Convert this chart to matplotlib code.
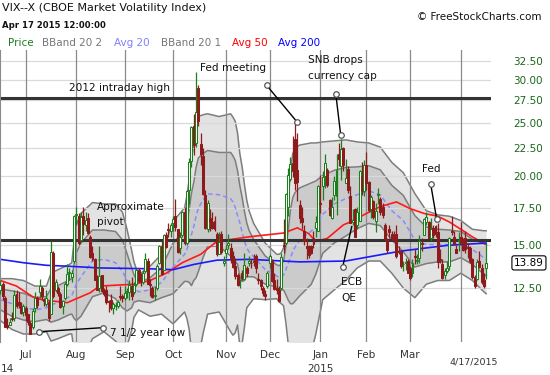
import numpy as np
import matplotlib.pyplot as plt
from matplotlib.ticker import NullLocator

# trading days shown per month: 16 Jun 2014 .. 17 Apr 2015
month_names = ['Jun', 'Jul', 'Aug', 'Sep', 'Oct', 'Nov', 'Dec', 'Jan', 'Feb', 'Mar', 'Apr']
month_days = [11, 22, 21, 21, 23, 19, 22, 20, 19, 22, 12]

# daily candles, one row per month
opens = [
    12.4, 12.7, 12.0, 10.7, 10.7, 11.0, 11.0, 12.2, 11.8, 11.6, 11.3,
    11.5, 11.2, 10.8, 10.6, 11.5, 12.0, 12.3, 12.5, 11.9, 11.7, 11.8, 11.2, 14.5, 12.4, 12.5, 12.2, 11.6, 12.0, 12.7, 13.3, 13.1, 14.0,
    17.0, 16.9, 15.3, 16.9, 16.3, 16.8, 15.5, 14.5, 14.1, 13.1, 12.5, 13.2, 12.4, 12.4, 11.8, 11.9, 11.5, 11.6, 11.6, 12.1, 12.1,
    12.0, 12.3, 12.3, 12.6, 12.3, 12.7, 13.5, 13.0, 12.8, 13.4, 14.0, 12.7, 12.5, 12.1, 12.5, 13.9, 14.9, 13.5, 15.6, 16.0, 15.9,
    16.4, 16.9, 16.0, 14.8, 15.6, 17.2, 15.1, 18.9, 21.3, 24.7, 23.0, 29.0, 22.9, 21.8, 18.5, 16.0, 16.8, 16.5, 16.6, 15.7, 14.4, 15.7, 13.9,
    14.5, 15.0, 14.8, 14.3, 13.7, 13.2, 12.9, 13.3, 13.0, 13.6, 13.9, 13.9, 14.0, 14.3, 13.0, 12.9, 12.5, 12.2, 12.6,
    13.9, 14.0, 12.9, 12.5, 12.4, 12.5, 15.0, 15.1, 17.6, 19.8, 21.1, 23.4, 20.5, 17.7, 16.8, 15.9, 14.9, 14.9, 14.9, 15.4, 16.1, 15.9,
    17.8, 19.2, 20.0, 20.5, 18.1, 16.8, 18.5, 18.4, 22.0, 20.9, 22.5, 19.4, 20.6, 18.4, 16.5, 17.4, 16.3, 16.6, 20.0, 18.8,
    21.0, 19.5, 17.4, 18.0, 16.6, 18.5, 18.2, 17.6, 16.3, 15.3, 16.0, 15.7, 15.6, 15.7, 14.6, 14.6, 13.8, 13.9, 14.0,
    13.6, 13.3, 14.3, 14.0, 14.2, 15.1, 15.6, 16.5, 16.5, 15.4, 16.1, 16.2, 15.8, 14.1, 13.8, 13.2, 13.4, 13.7, 15.9, 15.5, 14.7, 15.2,
    15.5, 15.0, 15.4, 14.8, 14.8, 14.1, 13.1, 13.0, 14.0, 13.6, 12.9, 13.6,
]
highs = [
    12.9, 12.8, 12.1, 11.0, 11.0, 11.3, 12.4, 12.4, 12.3, 11.8, 11.7,
    11.6, 11.2, 10.9, 11.5, 12.3, 12.1, 13.0, 12.6, 12.0, 12.4, 11.9, 15.2, 14.6, 13.0, 12.6, 12.3, 11.9, 12.8, 13.8, 13.6, 13.5, 17.0,
    17.6, 17.1, 17.2, 17.6, 17.2, 17.1, 15.6, 14.9, 14.2, 13.2, 14.9, 13.2, 12.5, 12.6, 11.9, 12.2, 11.8, 11.8, 11.9, 12.6, 12.2,
    12.6, 12.5, 12.9, 13.1, 12.8, 13.6, 13.6, 13.3, 13.5, 14.5, 14.2, 13.0, 12.6, 12.6, 13.8, 15.0, 15.2, 15.7, 15.8, 16.4, 16.4,
    16.9, 18.2, 16.0, 15.8, 17.3, 17.6, 18.9, 21.6, 24.7, 26.0, 31.06, 29.4, 24.0, 22.5, 18.9, 18.1, 17.4, 17.2, 16.9, 15.8, 15.8, 15.9, 14.3,
    15.0, 15.7, 15.1, 14.6, 14.2, 13.3, 13.0, 13.5, 14.5, 13.7, 14.3, 14.1, 14.4, 14.4, 13.3, 13.0, 12.6, 12.4, 13.4,
    14.4, 14.1, 13.3, 13.0, 12.6, 14.5, 16.7, 18.6, 20.7, 21.7, 23.7, 25.2, 24.0, 18.1, 17.6, 16.3, 15.4, 15.0, 15.0, 15.9, 16.9, 19.3,
    20.1, 20.4, 22.0, 20.7, 18.2, 18.3, 20.0, 22.0, 23.0, 23.4, 22.6, 21.5, 20.9, 19.2, 17.4, 17.5, 17.6, 20.5, 21.2, 21.4,
    22.1, 19.6, 18.5, 18.1, 17.9, 19.0, 18.3, 17.9, 16.4, 15.4, 16.3, 15.9, 15.9, 16.3, 14.9, 14.6, 14.0, 14.2, 14.1,
    13.7, 14.1, 14.7, 14.4, 15.6, 15.4, 16.8, 17.2, 16.6, 16.8, 16.3, 16.3, 16.4, 14.7, 14.1, 13.6, 14.0, 15.5, 16.9, 15.9, 15.0, 15.8,
    16.5, 15.4, 15.9, 15.1, 14.9, 14.2, 13.2, 14.1, 14.6, 13.8, 13.3, 15.1,
]
lows = [
    12.2, 11.9, 10.6, 10.5, 10.7, 10.9, 10.9, 11.5, 11.5, 11.2, 11.1,
    10.9, 10.7, 10.28, 10.5, 11.3, 11.5, 12.0, 11.9, 11.6, 11.6, 10.9, 11.2, 12.0, 12.3, 12.1, 11.5, 11.2, 11.9, 12.6, 12.9, 12.8, 13.9,
    16.3, 15.0, 15.2, 15.6, 15.9, 15.7, 14.2, 14.0, 12.9, 12.4, 12.3, 12.3, 12.1, 11.7, 11.3, 11.4, 11.2, 11.4, 11.5, 11.9, 11.8,
    11.9, 12.0, 11.9, 11.9, 12.2, 12.6, 12.8, 12.6, 12.7, 13.3, 12.7, 12.1, 12.0, 11.9, 12.4, 13.8, 13.2, 13.5, 14.8, 15.5, 15.5,
    15.9, 15.9, 14.5, 14.4, 15.5, 15.0, 15.0, 17.8, 20.8, 21.9, 22.6, 24.7, 21.0, 18.5, 16.0, 15.8, 15.9, 16.0, 15.9, 14.3, 14.4, 14.4, 13.7,
    14.2, 14.7, 13.9, 13.6, 13.0, 12.6, 12.5, 12.9, 12.9, 13.1, 13.7, 13.6, 13.7, 13.3, 12.7, 12.4, 12.1, 11.9, 12.5,
    13.6, 12.8, 12.4, 12.2, 11.8, 12.4, 14.5, 15.0, 16.9, 19.6, 19.9, 18.9, 18.0, 16.4, 16.0, 15.0, 14.1, 14.2, 14.4, 14.8, 15.5, 15.9,
    17.1, 18.1, 19.0, 19.1, 16.9, 16.7, 18.1, 17.0, 20.9, 19.7, 20.4, 19.4, 18.6, 16.4, 16.3, 15.5, 16.0, 16.6, 18.5, 18.4,
    18.9, 17.2, 16.8, 16.7, 15.8, 17.8, 17.0, 16.8, 15.2, 14.5, 15.4, 15.3, 15.2, 14.2, 14.4, 13.6, 13.4, 13.5, 13.3,
    12.9, 13.1, 13.8, 13.8, 13.9, 14.6, 15.6, 16.3, 15.4, 15.2, 15.4, 15.5, 13.6, 13.9, 13.0, 13.0, 13.3, 13.5, 15.6, 15.0, 14.5, 14.6,
    15.0, 14.6, 14.5, 14.2, 13.9, 13.0, 12.5, 12.9, 13.6, 12.7, 12.5, 13.0,
]
closes = [
    12.65, 12.06, 10.61, 10.62, 10.85, 10.98, 12.13, 11.59, 11.63, 11.26, 11.57,
    11.15, 10.82, 10.32, 11.33, 11.98, 11.65, 12.59, 12.08, 11.82, 11.96, 11.00, 14.54, 12.06, 12.81, 12.24, 11.52, 11.84, 12.69, 13.28, 13.33, 13.33, 16.95,
    17.03, 15.12, 16.87, 16.37, 16.66, 15.77, 14.23, 14.13, 12.90, 12.42, 13.15, 12.32, 12.21, 11.78, 11.76, 11.47, 11.70, 11.63, 11.78, 12.05, 11.98,
    12.25, 12.36, 12.64, 12.09, 12.66, 13.50, 12.88, 12.80, 13.31, 14.12, 12.73, 12.65, 12.03, 12.11, 13.69, 14.93, 13.27, 15.64, 14.85, 15.98, 16.31,
    16.71, 16.16, 14.55, 15.46, 17.20, 15.11, 18.76, 21.24, 24.64, 22.79, 26.25, 25.20, 21.99, 18.57, 16.08, 17.87, 16.53, 16.11, 16.04, 14.39, 15.15, 14.52, 14.03,
    14.73, 15.10, 14.17, 13.67, 13.12, 12.67, 12.92, 13.02, 13.79, 13.31, 13.99, 13.86, 13.96, 13.58, 12.90, 12.62, 12.25, 12.07, 13.33,
    14.29, 12.85, 12.47, 12.38, 11.82, 14.21, 14.89, 18.53, 20.08, 21.08, 20.42, 19.44, 19.52, 16.81, 16.49, 15.25, 14.80, 14.37, 14.50, 15.06, 16.49, 19.20,
    17.79, 19.92, 21.12, 19.31, 17.01, 17.55, 19.60, 20.56, 21.48, 22.39, 20.95, 19.89, 18.85, 16.40, 16.66, 15.52, 17.22, 20.44, 18.76, 20.97,
    19.43, 17.33, 18.33, 16.85, 17.29, 18.55, 17.23, 16.96, 15.34, 14.69, 15.80, 15.45, 15.29, 14.30, 14.56, 13.69, 13.84, 13.91, 13.34,
    13.04, 13.86, 14.23, 14.04, 15.20, 15.06, 16.69, 16.87, 15.42, 16.00, 15.61, 15.66, 13.97, 14.07, 13.02, 13.41, 13.62, 15.44, 15.80, 15.07, 14.51, 15.29,
    15.11, 14.67, 14.74, 14.78, 13.98, 13.09, 12.58, 13.94, 13.67, 12.84, 12.60, 13.89,
]

# indicator lines (day number counted from 16 Jun 2014)
band_day = [0, 5, 10, 15, 20, 22, 25, 30, 31, 32, 33, 35, 40, 45, 50, 53, 55, 57, 58, 60, 65, 70, 75,
            80, 81, 82, 83, 84, 85, 86, 88, 90, 95, 100, 101, 102, 103, 104, 105, 106, 107, 108, 110,
            115, 120, 121, 122, 123, 124, 125, 126, 127, 128, 130, 135, 137, 140, 145, 150, 155, 160,
            165, 170, 175, 180, 185, 190, 195, 200, 205, 210, 211]
avg20 = [11.9, 11.7, 11.55, 11.4, 11.5, 11.65, 11.75, 12.05, 12.1, 12.4, 12.7, 13.1, 14.0, 14.1, 13.9, 13.4,
         12.9, 12.55, 12.5, 12.3, 12.4, 12.8, 13.65, 14.4, 14.7, 15.1, 15.65, 16.2, 16.9, 17.5, 18.1, 18.57,
         18.5, 18.2, 17.95, 17.55, 16.95, 16.46, 15.79, 15.22, 14.79, 14.56, 14.25, 13.51, 13.15, 13.06, 13.11,
         13.2, 13.5, 13.86, 14.2, 14.55, 14.85, 15.28, 15.88, 16.2, 17.03, 17.8, 18.2, 18.5, 18.8, 18.5, 17.3,
         16.6, 15.3, 15.0, 15.0, 15.0, 15.1, 14.7, 14.2, 14.1]
bband2_up = [13.0, 13.0, 12.9, 12.6, 12.6, 13.3, 13.5, 13.8, 13.9, 15.2, 16.3, 17.1, 17.9, 17.8, 17.8, 17.2,
             16.0, 14.65, 13.95, 13.2, 13.7, 14.4, 16.55, 17.5, 18.4, 19.7, 21.6, 22.8, 24.6, 25.7, 25.9, 26.0,
             25.7, 26.0, 25.65, 25.2, 24.0, 22.0, 20.8, 19.3, 18.1, 17.3, 16.4, 15.1, 14.4, 14.4, 14.5, 14.8,
             16.2, 17.9, 20.5, 22.0, 22.5, 22.8, 23.0, 23.0, 23.1, 23.2, 23.3, 23.1, 23.0, 22.6, 21.2, 20.3,
             18.6, 17.3, 17.0, 16.9, 16.6, 16.0, 15.9, 15.9]
bband2_lo = [10.9, 10.5, 10.3, 10.3, 10.4, 10.0, 10.1, 10.3, 10.3, 9.6, 9.1, 9.1, 10.1, 10.4, 10.0, 9.6,
             9.8, 10.45, 11.05, 11.4, 11.1, 11.2, 10.75, 11.3, 11.0, 10.5, 9.6, 9.6, 9.2, 9.3, 10.3, 11.2,
             11.3, 10.4, 10.25, 10.35, 10.7, 9.8, 9.9, 10.6, 11.5, 11.65, 11.95, 11.9, 11.95, 11.8, 11.7, 11.6,
             10.8, 9.9, 9.2, 8.85, 8.8, 8.9, 9.5, 10.3, 11.9, 12.4, 12.9, 13.6, 14.0, 14.0, 13.3, 12.5,
             12.0, 12.7, 12.9, 12.9, 13.3, 12.9, 12.3, 12.2]
avg50_day = [0, 7, 14, 18, 29, 39, 43, 58, 65, 72, 79, 87, 94, 108, 123, 129, 134, 137, 142, 149, 152,
             159, 165, 172, 178, 184, 190, 195, 201, 205, 211]
avg50 = [12.9, 12.6, 12.05, 11.9, 11.75, 12.25, 12.6, 12.7, 12.9, 13.3, 13.9, 14.4, 15.2, 15.5, 15.75, 16.1,
         15.7, 15.2, 15.4, 16.3, 16.5, 17.1, 17.6, 17.95, 17.45, 17.1, 16.9, 16.5, 15.9, 15.5, 15.0]
avg200_day = [0, 10, 20, 29, 43, 65, 75, 84, 94, 108, 130, 150, 174, 194, 211]
avg200 = [14.1, 13.9, 13.75, 13.7, 13.6, 13.55, 13.5, 13.8, 14.05, 14.1, 13.95, 14.0, 14.6, 14.95, 15.1]

price_levels = [12.5, 15.0, 17.5, 20.0, 22.5, 25.0, 27.5, 30.0, 32.5]
high_2012 = 27.73
pivot = 15.30
last_price = 13.89

GREEN = '#1c7f1c'
RED = '#8e1b1b'
W, H = 550, 375

fig = plt.figure(figsize=(W / 100, H / 100), dpi=100)
ax = fig.add_axes([0, 33 / H, 491 / W, 292 / H])


def fxy(x, y):
    # figure pixel position -> figure fraction
    return x / W, 1 - y / H


n = len(closes)
days = np.arange(n)
o, hi, lo, c = (np.array(v) for v in (opens, highs, lows, closes))
rise = c >= o
month_start = np.cumsum([0] + month_days[:-1])

# bollinger bands
bd = np.array(band_day)
mid = np.array(avg20)
u2, l2 = np.array(bband2_up), np.array(bband2_lo)
u1, l1 = (mid + u2) / 2, (mid + l2) / 2
ax.fill_between(bd, l2, u2, color='#e3e3e3', lw=0, zorder=1)
ax.fill_between(bd, l1, u1, color='#cbcbcb', lw=0, zorder=1.1)
for band in (u2, l2, u1, l1):
    ax.plot(bd, band, color='#7d7d7d', lw=1.1, zorder=1.2)

# grid
for lev in price_levels:
    ax.axhline(lev, color='#dadada', lw=0.9, zorder=1.3)
for m in month_start[1:]:
    ax.axvline(m, color='#8a8a8a', lw=0.9, zorder=1.5)

ax.plot(bd, mid, color='#8a8aff', lw=1.1, dashes=(3, 2), zorder=2)
ax.plot(avg50_day, avg50, color='#ff1a1a', lw=1.2, zorder=2.2)
ax.plot(avg200_day, avg200, color='#1a1aff', lw=1.2, zorder=2.2)

ax.axhline(high_2012, color='#333333', lw=2.2, zorder=2.5)
ax.axhline(pivot, color='#333333', lw=2.2, zorder=2.5)

# candles
cols = np.where(rise, GREEN, RED)
ax.vlines(days, lo, hi, colors=cols, lw=0.9, zorder=3)
body_lo = np.minimum(o, c)
body_h = np.maximum(np.abs(c - o), 0.05)
ax.bar(days, body_h, bottom=body_lo, width=0.85, color=np.where(rise, 'white', RED),
       edgecolor=cols, lw=0.75, zorder=3.1)

ax.set_yscale('log')
ax.set_ylim(9.96, 34.0)
ax.set_xlim(-0.17, 213.1)

ax.yaxis.tick_right()
ax.yaxis.set_minor_locator(NullLocator())
ax.set_yticks(price_levels)
ax.set_yticklabels([f'{v:.2f}' for v in price_levels])
ax.tick_params(axis='y', length=0, pad=16, labelcolor='#1a661a', labelsize=7.5)
ax.set_xticks([])
for side in ('top', 'right', 'bottom'):
    ax.spines[side].set_visible(False)
ax.spines['left'].set_color('#8a8a8a')

ax.annotate(f'{last_price:.2f}', xy=(1, last_price), xycoords=('axes fraction', 'data'),
            xytext=(23, 0), textcoords='offset pixels', va='center', ha='left', fontsize=7.5,
            color='black', bbox=dict(boxstyle='round,pad=0.2', fc='white', ec='black', lw=0.8))

# month axis
xt = ax.get_xaxis_transform()
for m, name in zip(month_start[1:-1], month_names[1:-1]):
    ax.text(m, -0.0445, name, transform=xt, ha='center', va='center', fontsize=7.5, color='#333333')
ax.text(month_start[7], -0.0925, '2015', transform=xt, ha='center', va='center', fontsize=7.5, color='#333333')
ax.text(0, -0.0925, '14', transform=xt, ha='left', va='center', fontsize=7.5, color='#333333')
ax.text(205.7, -0.0685, '4/17/2015', transform=xt, ha='center', va='center', fontsize=6.8, color='#333333')

# annotations
txt = dict(fontsize=7.6, color='#111111', va='center', ha='left', zorder=5)
ax.text(29.8, 29.0, '2012 intraday high', **txt)
ax.text(86.7, 31.55, 'Fed meeting', **txt)
ax.text(133.6, 32.6, 'SNB drops', **txt)
ax.text(133.6, 30.5, 'currency cap', **txt)
ax.text(42.0, 17.6, 'Approximate', **txt)
ax.text(42.0, 16.5, 'pivot', **txt)
ax.text(47.6, 10.34, '7 1/2 year low', **txt)
ax.text(148.0, 12.83, 'ECB', **txt)
ax.text(148.0, 12.0, 'QE', **txt)
ax.text(183.1, 20.6, 'Fed', **txt)

pointers = [((16.8, 10.40), (44.7, 10.58), True),
            ((115.7, 29.29), (128.7, 25.17), True),
            ((145.7, 28.24), (147.8, 23.80), True),
            ((148.7, 13.67), (152.6, 16.18), False),
            ((186.9, 19.36), (189.5, 16.69), True)]
for (x0, y0), (x1, y1), end_mark in pointers:
    ax.plot([x0, x1], [y0, y1], color='black', lw=1.0, zorder=4)
    ends = [(x0, y0), (x1, y1)] if end_mark else [(x0, y0)]
    for ex, ey in ends:
        ax.plot(ex, ey, 'o', ms=4, mfc='white', mec='#555555', mew=0.9, zorder=4.1)

# header
fig.text(*fxy(2, 8), 'VIX--X (CBOE Market Volatility Index)', fontsize=8, va='center', color='#111111')
fig.text(*fxy(2, 25), 'Apr 17 2015 12:00:00', fontsize=6.1, fontweight='bold', va='center', color='#111111')
fig.text(*fxy(417, 17), '\u00a9 FreeStockCharts.com', fontsize=7.5, va='center', color='#111111')
legend_items = [('Price', GREEN, 8), ('BBand 20 2', '#777777', 42), ('Avg 20', '#8080ff', 114),
                ('BBand 20 1', '#777777', 161), ('Avg 50', '#ff0000', 232), ('Avg 200', '#0000ff', 278)]
for label, col, xpx in legend_items:
    fig.text(*fxy(xpx, 43), label, fontsize=7.5, va='center', color=col)

fig.savefig('out.png', dpi=100)
